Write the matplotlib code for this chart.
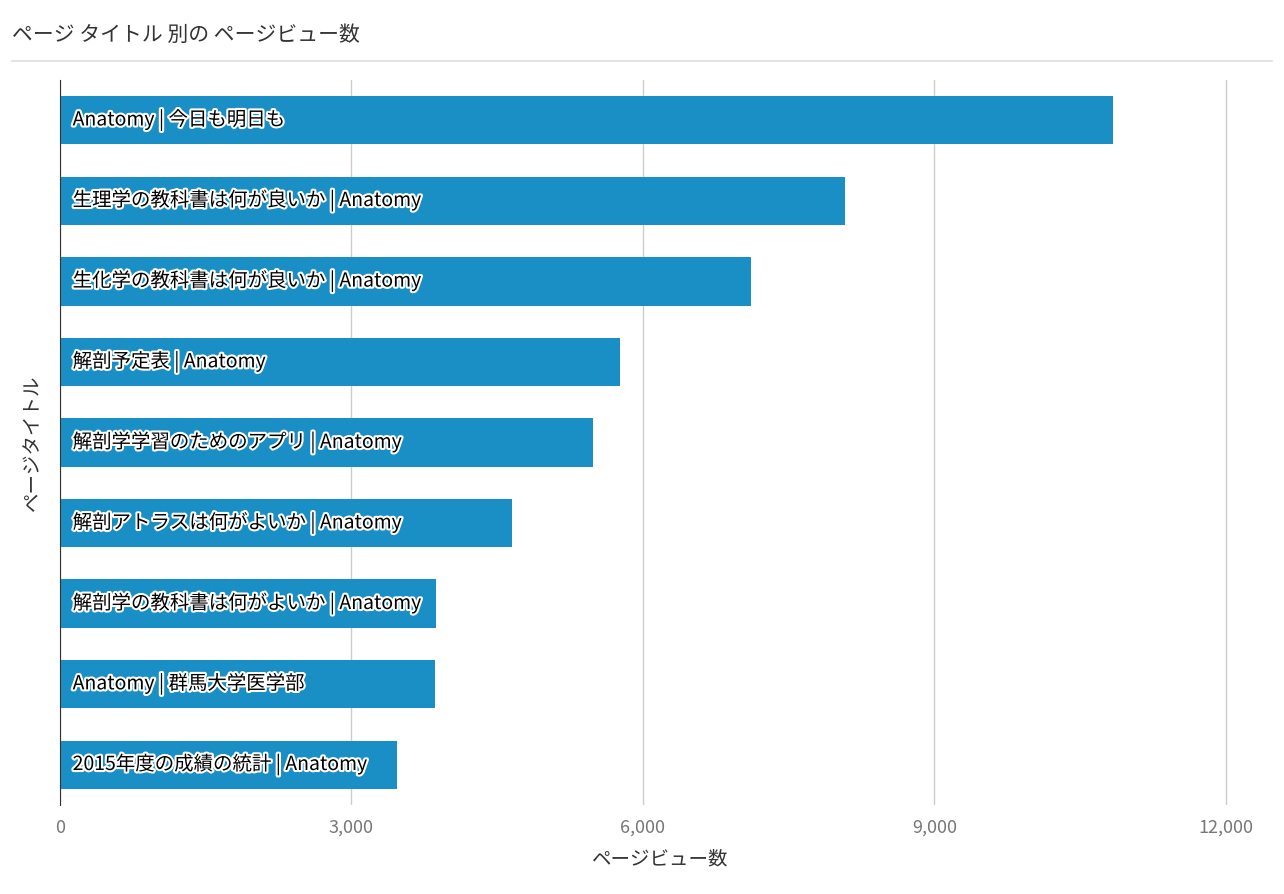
import matplotlib
matplotlib.use("Agg")
import matplotlib.pyplot as plt
import matplotlib.patheffects as pe
from matplotlib.lines import Line2D

plt.rcParams["font.family"] = ["Noto Sans CJK JP", "DejaVu Sans"]

titles = ["Anatomy | 今日も明日も", "生理学の教科書は何が良いか | Anatomy", "生化学の教科書は何が良いか | Anatomy",
          "解剖予定表 | Anatomy", "解剖学学習のためのアプリ | Anatomy", "解剖アトラスは何がよいか | Anatomy",
          "解剖学の教科書は何がよいか | Anatomy", "Anatomy | 群馬大学医学部", "2015年度の成績の統計 | Anatomy"]
views = [10840, 8080, 7110, 5765, 5490, 4655, 3865, 3860, 3470]
xticks = [0, 3000, 6000, 9000, 12000]
xticklabels = ["0", "3,000", "6,000", "9,000", "12,000"]

fig = plt.figure(figsize=(12.84, 8.94), dpi=100)
ax = fig.add_axes([60/1284, 1-805/894, 1200/1284, 725/894])
y = list(range(len(titles)))
ax.barh(y, views, height=0.6, color="#1a8fc6", zorder=2)
ax.set_ylim(len(titles)-0.5, -0.5)
ax.set_xlim(0, 12350)
ax.set_xticks(xticks)
ax.set_xticklabels(xticklabels, fontsize=13, color="#777777")
ax.set_yticks([])
ax.grid(axis="x", color="#cccccc", lw=1, zorder=0)
for s in ["top", "right", "bottom"]:
    ax.spines[s].set_visible(False)
ax.spines["left"].set_color("#333333")
ax.tick_params(axis="x", length=0, pad=10)
for yi, t in zip(y, titles):
    ax.text(130, yi, t, va="center", ha="left", fontsize=14, color="black", zorder=3,
            path_effects=[pe.withStroke(linewidth=3, foreground="white")])
ax.set_xlabel("ページビュー数", fontsize=14, color="#333333", style="italic", labelpad=8)
ax.set_ylabel("ページタイトル", fontsize=14, color="#333333", style="italic", labelpad=12)
fig.text(12/1284, 1-35/894, "ページ タイトル 別の ページビュー数", fontsize=15, color="#333333", va="center")
fig.add_artist(Line2D([12/1284, 1272/1284], [1-61/894]*2, color="#dddddd", lw=1.2))
fig.savefig("out.png", dpi=100)
